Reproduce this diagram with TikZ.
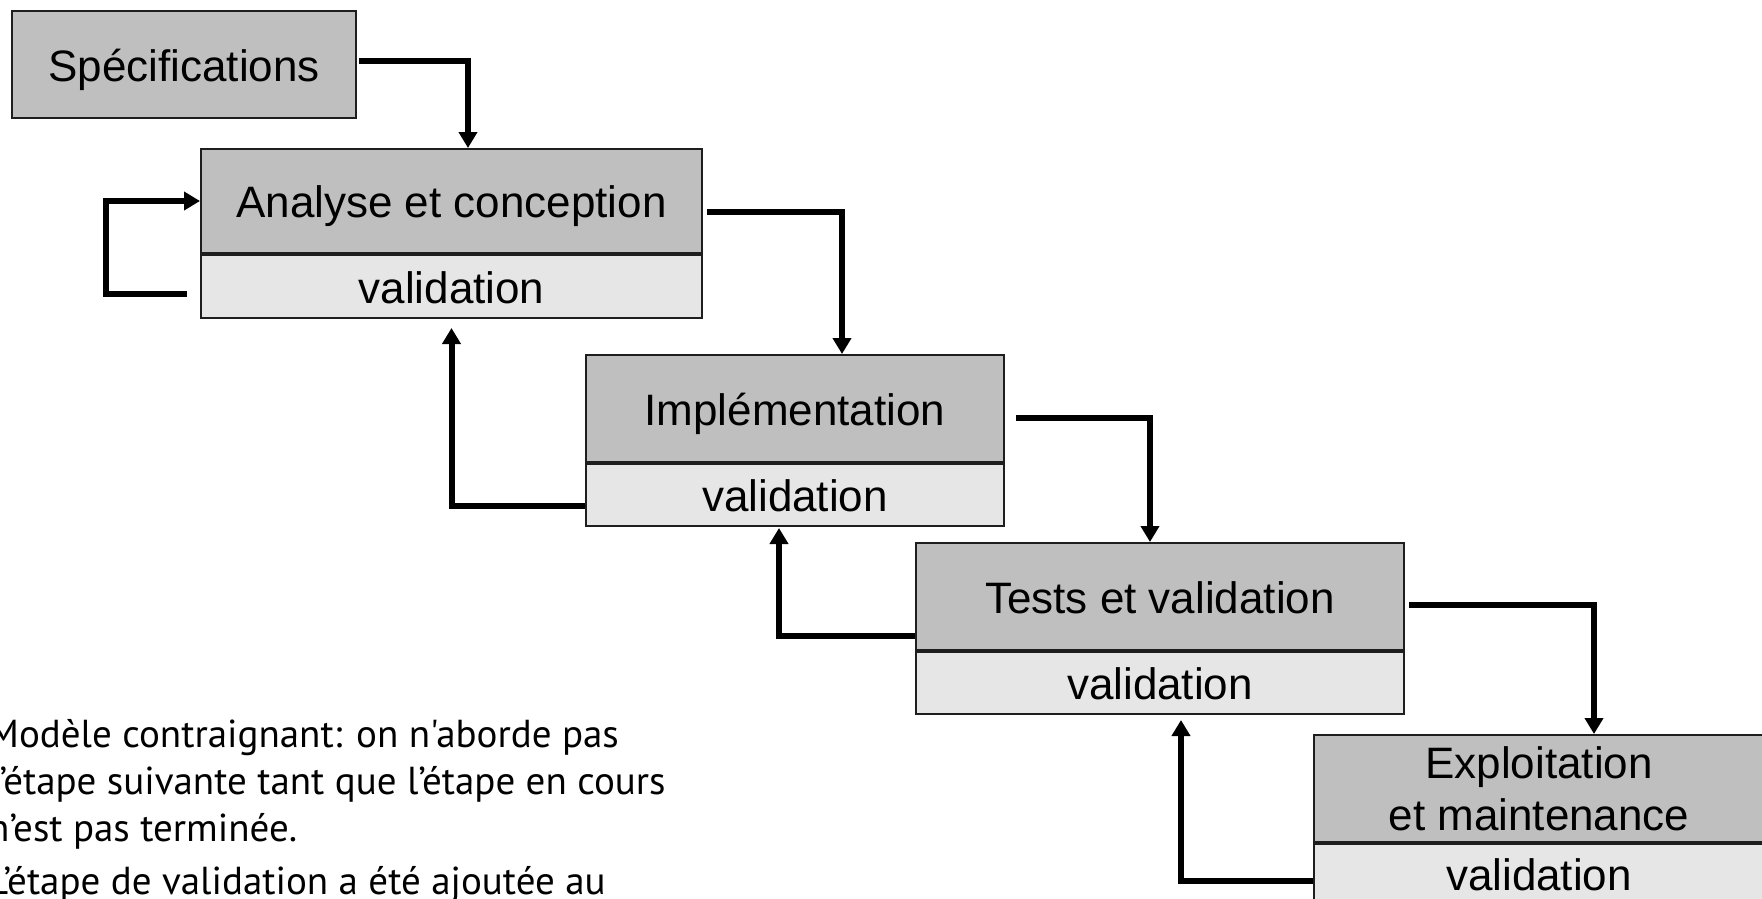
\documentclass[tikz,border=0pt]{standalone}
\usepackage{fontspec}
\setmainfont{Liberation Sans}
\newfontfamily\notefont[Ligatures=TeXOff]{PT Sans}
\usetikzlibrary{arrows.meta}

\definecolor{stagefill}{HTML}{BFBFBF}
\definecolor{valfill}{HTML}{E6E6E6}
\definecolor{edgegray}{HTML}{1E1E1E}

\tikzset{
  box/.style={draw=edgegray, line width=2pt, inner sep=0pt, anchor=north west,
              font=\fontsize{44}{52}\selectfont, align=center},
  oneline/.style={text height=33pt, text depth=0pt},
  stagebox/.style={box, fill=stagefill},
  valbox/.style={box, oneline, fill=valfill},
  flow/.style={line width=6pt, line join=miter,
               -{Triangle[width=18pt,length=16pt]}},
  note/.style={anchor=base west, inner sep=0pt,
               font=\notefont\fontsize{39}{47}\selectfont, text=black}
}

\begin{document}
\begin{tikzpicture}[x=1pt,y=-1pt]
\useasboundingbox (0,0) rectangle (1762,898);
\clip (0,0) rectangle (1762,898);

% stages of the waterfall
\node[stagebox, oneline, minimum width=344pt, minimum height=107pt] (spec) at (11,10) {Spécifications};

\node[stagebox, oneline, minimum width=501pt, minimum height=104pt] (ana) at (200,148) {Analyse et conception};
\node[valbox, minimum width=501pt, minimum height=63pt] (anav) at (ana.south west) {validation};

\node[stagebox, oneline, minimum width=418pt, minimum height=107pt] (impl) at (585,354) {Implémentation};
\node[valbox, minimum width=418pt, minimum height=62pt] (implv) at (impl.south west) {validation};

\node[stagebox, oneline, minimum width=488pt, minimum height=107pt] (tests) at (915,542) {Tests et validation};
\node[valbox, minimum width=488pt, minimum height=62pt] (testsv) at (tests.south west) {validation};

\node[stagebox, minimum width=450pt, minimum height=107pt] (expl) at (1313,734) {Exploitation\\et maintenance};
\node[valbox, minimum width=450pt, minimum height=60pt] (explv) at (expl.south west) {validation};

% forward flow
\draw[flow] ([xshift=2pt,yshift=3.5pt]spec.east) -| ([xshift=16.5pt]ana.north);
\draw[flow] ([xshift=4pt,yshift=-11pt]ana.east) -| ([xshift=47pt]impl.north);
\draw[flow] ([xshift=11pt,yshift=-9.5pt]impl.east) -| ([xshift=-10pt]tests.north);
\draw[flow] ([xshift=4pt,yshift=-8.5pt]tests.east) -| ([xshift=55pt]expl.north);

% iteration on the analysis
\draw[flow] ([xshift=-13pt,yshift=-7.5pt]anav.west) -- ++(-81,0) |- (ana.west);

% feedback to the previous stage
\draw[flow] ([yshift=-11pt]implv.west) -| ([yshift=-9pt]anav.south);
\draw[flow] ([yshift=-39.5pt]tests.west) -| ([xshift=-16pt,yshift=-1pt]implv.south);
\draw[flow] ([yshift=-7pt]explv.west) -| ([xshift=21pt,yshift=-5pt]testsv.south);

% notes
\node[note] (n1) at (-12,747) {Modèle contraignant: on n'aborde pas};
\node[note] (n2) at (-12,794) {l’étape suivante tant que l’étape en cours};
\node[note] (n3) at (-12,841) {n’est pas terminée.};
\node[note] (n4) at (-12,894) {L’étape de validation a été ajoutée au};
\end{tikzpicture}
\end{document}
